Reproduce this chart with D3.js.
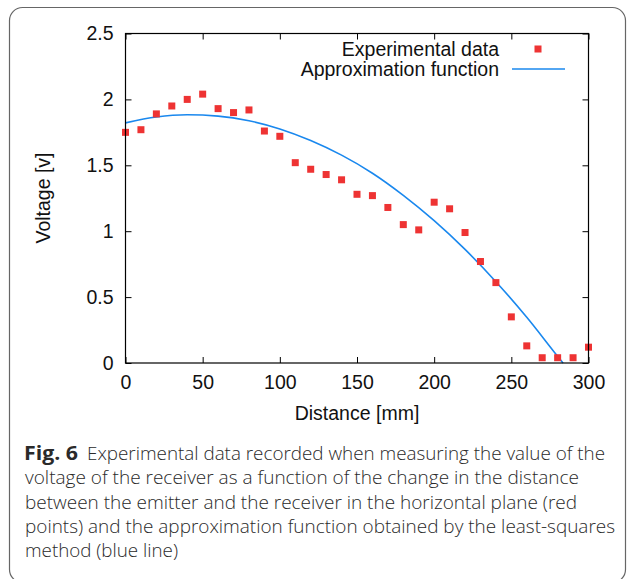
<!DOCTYPE html>
<html>
<head>
<meta charset="utf-8">
<script src="https://cdn.jsdelivr.net/npm/d3@7"></script>
<style>
    body { margin: 0; background: #fff; }
    svg { display: block; }
    .tick text { font-family: "Liberation Sans", Arial, sans-serif; font-size: 19.5px; fill: #111; }
    .tick line { stroke: #000; }
</style>
</head>
<body>
<div id="chart"></div>
<script>
// measured points (distance in mm, voltage in v)
const distances = [0, 10, 20, 30, 40, 50, 60, 70, 80, 90, 100, 110, 120, 130, 140, 150,
    160, 170, 180, 190, 200, 210, 220, 230, 240, 250, 260, 270, 280, 290, 300];
const voltages = [1.75, 1.77, 1.89, 1.95, 2.00, 2.04, 1.93, 1.90, 1.92, 1.76, 1.72, 1.52,
    1.47, 1.43, 1.39, 1.28, 1.27, 1.18, 1.05, 1.01, 1.22, 1.17, 0.99, 0.77, 0.61, 0.35,
    0.13, 0.04, 0.04, 0.04, 0.12];

// approximation curve
const fitDistances = [0, 20, 40, 60, 80, 100, 120, 140, 160, 180, 200, 220, 240, 260, 280, 283.5];
const fitVoltages = [1.822, 1.866, 1.883, 1.873, 1.838, 1.776, 1.688, 1.577, 1.440, 1.272,
    1.080, 0.862, 0.617, 0.347, 0.051, 0];

const xTicks = [0, 50, 100, 150, 200, 250, 300];
const yTicks = [0, 0.5, 1, 1.5, 2, 2.5];
const legendLabels = ["Experimental data", "Approximation function"];

const captionBold = "Fig. 6";
const captionLines = [
    "Experimental data recorded when measuring the value of the",
    "voltage of the receiver as a function of the change in the distance",
    "between the emitter and the receiver in the horizontal plane (red",
    "points) and the approximation function obtained by the least-squares",
    "method (blue line)"
];

const W = 627, H = 579;
const margin = {top: 33.5, left: 125.5, right: 38.5, bottom: 216};
const width = W - margin.left - margin.right;
const height = H - margin.top - margin.bottom;

const red = "#ee3333", blue = "#1a88ee";
const labelFont = "'Liberation Sans', Arial, sans-serif";

const svg = d3.select("#chart").append("svg")
    .attr("width", W)
    .attr("height", H);

// figure frame (rounded box, bottom edge just at the picture edge)
svg.append("rect")
    .attr("x", 9.5).attr("y", 7.5)
    .attr("width", 616).attr("height", 575)
    .attr("rx", 13).attr("ry", 13)
    .attr("fill", "none")
    .attr("stroke", "#666")
    .attr("stroke-width", 1.2);

const g = svg.append("g")
    .attr("transform", `translate(${margin.left},${margin.top})`);

const x = d3.scaleLinear().domain([0, 300]).range([0, width]);
const y = d3.scaleLinear().domain([0, 2.5]).range([height, 0]);

// axes with inward ticks, mirrored on top/right
g.append("g")
    .attr("transform", `translate(0,${height})`)
    .call(d3.axisBottom(x).tickValues(xTicks).tickSize(-6).tickPadding(12))
    .call(a => a.select(".domain").remove());

g.append("g")
    .call(d3.axisTop(x).tickValues(xTicks).tickSize(-6).tickFormat(""))
    .call(a => a.select(".domain").remove());

g.append("g")
    .call(d3.axisLeft(y).tickValues(yTicks).tickSize(-6).tickPadding(12).tickFormat(d3.format("")))
    .call(a => a.select(".domain").remove());

g.append("g")
    .attr("transform", `translate(${width},0)`)
    .call(d3.axisRight(y).tickValues(yTicks).tickSize(-6).tickFormat(""))
    .call(a => a.select(".domain").remove());

g.selectAll(".tick line").attr("stroke", "#444");

// clip for the curve
g.append("clipPath").attr("id", "plot-clip")
    .append("rect").attr("width", width).attr("height", height + 1);

const fitData = fitDistances.map((d, i) => ({x: d, y: fitVoltages[i]}));
const line = d3.line()
    .x(d => x(d.x))
    .y(d => y(d.y))
    .curve(d3.curveMonotoneX);

g.append("path")
    .datum(fitData)
    .attr("clip-path", "url(#plot-clip)")
    .attr("d", line)
    .attr("fill", "none")
    .attr("stroke", blue)
    .attr("stroke-width", 1.6);

// points
const pts = distances.map((d, i) => ({x: d, y: voltages[i]}));
const sz = 7;
g.selectAll("rect.pt")
    .data(pts)
    .enter().append("rect")
    .attr("class", "pt")
    .attr("x", d => x(d.x) - sz / 2)
    .attr("y", d => y(d.y) - sz / 2)
    .attr("width", sz)
    .attr("height", sz)
    .attr("fill", red);

// plot border
g.append("rect")
    .attr("width", width)
    .attr("height", height)
    .attr("fill", "none")
    .attr("stroke", "#000")
    .attr("stroke-width", 1.2);

// legend
const legend = svg.append("g")
    .style("font-family", labelFont)
    .style("font-size", "19.5px")
    .attr("fill", "#111");

legend.append("text")
    .attr("x", 499).attr("y", 56)
    .attr("text-anchor", "end")
    .text(legendLabels[0]);
legend.append("rect")
    .attr("x", 534.5).attr("y", 45.5)
    .attr("width", sz).attr("height", sz)
    .attr("fill", red);

legend.append("text")
    .attr("x", 499).attr("y", 76)
    .attr("text-anchor", "end")
    .text(legendLabels[1]);
legend.append("line")
    .attr("x1", 512).attr("x2", 565)
    .attr("y1", 69).attr("y2", 69)
    .attr("stroke", blue)
    .attr("stroke-width", 1.6);

// axis titles
svg.append("text")
    .attr("x", margin.left + width / 2)
    .attr("y", 420)
    .attr("text-anchor", "middle")
    .style("font-family", labelFont)
    .style("font-size", "19.5px")
    .attr("fill", "#111")
    .text("Distance [mm]");

svg.append("text")
    .attr("transform", "translate(50,198) rotate(-90)")
    .attr("text-anchor", "middle")
    .style("font-family", labelFont)
    .style("font-size", "19.5px")
    .attr("fill", "#111")
    .text("Voltage [v]");

// caption
const cap = svg.append("g")
    .style("font-family", "'Open Sans', 'Noto Sans', sans-serif")
    .style("font-size", "19px")
    .style("font-weight", 300)
    .attr("fill", "#2a2a2a");

const capY = [460, 484.3, 508.6, 532.9, 557.2];
const capX = [87, 25, 25, 25, 25];
const capLens = [518, 554, 552, 590, 153];

cap.append("text")
    .attr("x", 24).attr("y", capY[0])
    .style("font-weight", "bold")
    .attr("textLength", 54)
    .attr("lengthAdjust", "spacingAndGlyphs")
    .text(captionBold);

captionLines.forEach((t, i) => {
    cap.append("text")
        .attr("x", capX[i])
        .attr("y", capY[i])
        .attr("textLength", capLens[i])
        .attr("lengthAdjust", "spacingAndGlyphs")
        .text(t);
});
</script>
</body>
</html>
